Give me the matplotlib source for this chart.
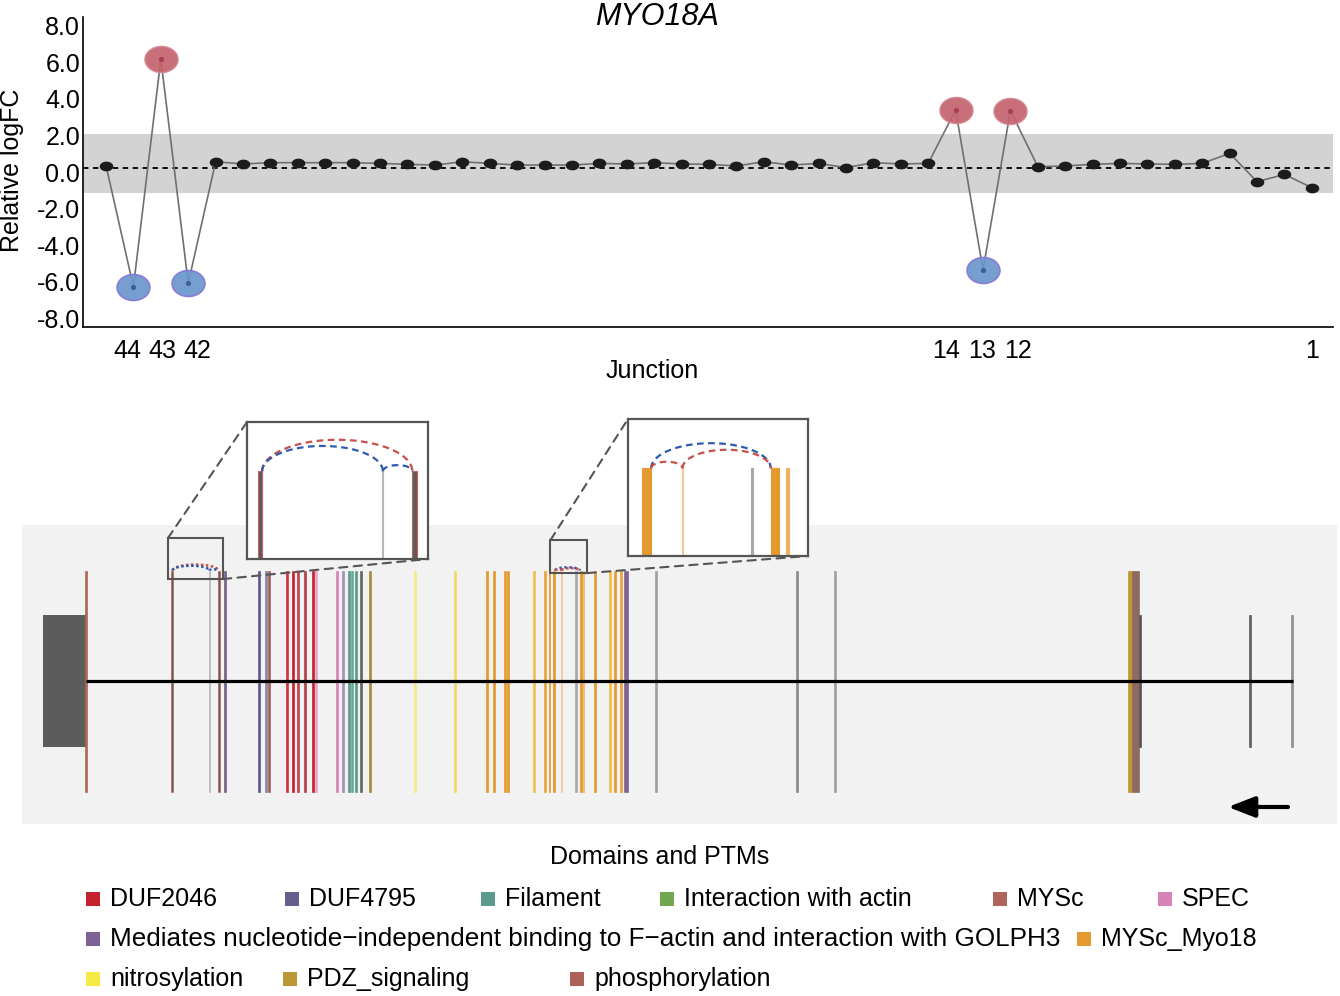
import numpy as np
import matplotlib

matplotlib.use("Agg")
import matplotlib.pyplot as plt
from matplotlib.path import Path
from matplotlib.patches import Rectangle, ConnectionPatch
from matplotlib.transforms import offset_copy, blended_transform_factory, ScaledTranslation

plt.rcParams["font.family"] = ["Liberation Sans", "DejaVu Sans"]
plt.rcParams["axes.unicode_minus"] = False

# junction-level relative logFC, junction 45 (left) -> junction 1 (right)
junctions = list(range(45, 0, -1))
logfc = [0.13, -6.50, 5.94, -6.30,
         0.34, 0.22, 0.29, 0.29, 0.29, 0.29, 0.25, 0.20, 0.16, 0.34,
         0.25, 0.16, 0.16, 0.16, 0.25, 0.22, 0.29, 0.22, 0.20, 0.11,
         0.34, 0.16, 0.25, 0.02, 0.29, 0.22, 0.25,
         3.17, -5.57, 3.13,
         0.07, 0.11, 0.20, 0.25, 0.22, 0.20, 0.25, 0.80, -0.75, -0.35, -1.08]
band = (-1.37, 1.86)
shown_junctions = [44, 43, 42, 14, 13, 12, 1]

# domains / PTMs legend
domain_names = ["DUF2046", "DUF4795", "Filament", "Interaction with actin", "MYSc", "SPEC",
                "Mediates nucleotide\u2212independent binding to F\u2212actin and interaction with GOLPH3",
                "MYSc_Myo18", "nitrosylation", "PDZ_signaling", "phosphorylation"]
domain_colors = ["#C4232E", "#655F8E", "#5B9A8E", "#73A74F", "#B0655A", "#D783B9",
                 "#7D6295", "#E49A2E", "#F6EB45", "#BC9735", "#AD6158"]

# gene model in track units (minus strand)
utr_block = (43, 86)
intron_span = (86, 1293)
exon_pos = [86, 172, 209.3, 219, 225, 259, 266, 269, 287, 293, 298, 305, 313, 316,
            337, 343, 349, 352, 356, 361, 370, 415, 455, 487, 494, 505, 508, 534,
            545, 549.5, 554.3, 561.7, 576, 580.7, 583.3, 595, 610, 615, 621, 626,
            656, 797, 835, 1130, 1135.5, 1140, 1250, 1292]
exon_width = [1.2, 1.2, 0.3, 1.5, 1.2, 1.2, 1.2, 1.2, 1.2, 1.2, 1.2, 1.2, 1.2, 1.2,
              1.2, 1.2, 1.2, 1.2, 1.2, 1.2, 1.2, 1.2, 1.2, 1.2, 1.2, 1.2, 1.2, 1.2,
              1.2, 1.2, 1.9, 0.25, 0.25, 1.7, 0.6, 1.2, 1.2, 1.2, 1.2, 4.5,
              1.2, 1.2, 1.2, 4.0, 7.0, 2.0, 1.2, 1.2]
exon_face = ["#B0655A", "#5C5C5C", "#B8B8B8", "#5C5C5C", "#76608F", "#5E5A8C", "#8A84A8",
             "#A65F5C", "#D0343E", "#C4232E", "#C9404A", "#B0424A", "#C4232E", "#E8A6CC",
             "#D882B8", "#A890B0", "#5B9B8E", "#6BA898", "#5B9B8E", "#666666", "#A88A40",
             "#F5EB80", "#F2D860", "#E49A2E", "#E49A2E", "#E49A2E", "#E49A2E", "#F0C050",
             "#E8A53A", "#E49A2E", "#E49A2E", "#F2C898", "#A8A8A8", "#E49A2E", "#F0B060",
             "#E49A2E", "#F0C040", "#E49A2E", "#E8A53A", "#7E6396",
             "#A0A0A0", "#8C8C8C", "#A0A0A0", "#BC9735", "#8F6A60", "#555555", "#606060", "#909090"]
exon_edge = list(exon_face)
exon_edge[1] = "#C8605C"
exon_edge[3] = "#C8605C"
exon_tall = [True] * 45 + [False, False, False]

# zoomed regions and the junctions drawn in them (start, end, direction)
zoom_ranges = [(168, 223), (550.5, 587.5)]
zoom_junctions = [
    [(172.6, 218.25, "up"), (172.6, 209.3, "down"), (209.3, 218.25, "down")],
    [(555.25, 579.85, "down"), (555.25, 561.7, "up"), (561.7, 579.85, "up")],
]

# ---- layout ----
W, H = 1340, 996
fig = plt.figure(figsize=(W / 100, H / 100), dpi=100)


def px_axes(x0, y0, x1, y1):
    return fig.add_axes([x0 / W, 1 - y1 / H, (x1 - x0) / W, (y1 - y0) / H])


def half_ellipse(a, b, base, rise, n=60):
    t = np.linspace(np.pi, 0, n)
    return (a + b) / 2 + (b - a) / 2 * np.cos(t), base + rise * np.sin(t)


FS = 18
junc_col = {"up": "#C8504A", "down": "#2E5BAF"}

# ---- top: junction logFC ----
ax = px_axes(83, 17, 1333, 327)
x = np.array(junctions, dtype=float)
y = np.array(logfc)
ax.axhspan(*band, color="#D3D3D3", lw=0, zorder=0)
ax.axhline(0, color="black", lw=1.3, ls=(0, (3, 2.5)), zorder=1)
ax.plot(x, y, color="#707070", lw=1.2, zorder=2)

t = np.linspace(0, 2 * np.pi, 60)


def ellipse_marker(r):
    return Path(np.column_stack([np.cos(t), r * np.sin(t)]), closed=True)


up = y > band[1]
down = y < band[0]
mid = ~(up | down)
ax.scatter(x[mid], y[mid], marker=ellipse_marker(0.72), s=95, color="#1C1C1C", lw=0, zorder=3)
ax.scatter(x[up], y[up], marker=ellipse_marker(0.79), s=570, facecolor="#C5636F",
           edgecolor="#D58A94", lw=1, alpha=0.92, zorder=4)
ax.scatter(x[down], y[down], marker=ellipse_marker(0.79), s=560, facecolor="#6A97CB",
           edgecolor="#8577D6", lw=1.2, alpha=0.92, zorder=4)
ax.scatter(x[up], y[up], s=14, color="#A8404F", lw=0, zorder=5)
ax.scatter(x[down], y[down], s=14, color="#3F5F92", lw=0, zorder=5)

ax.set_xlim(45.84, 0.23)
ax.set_ylim(-8.69, 8.25)
yt = np.arange(-8, 9, 2)
ax.set_yticks(yt, labels=[f"{v:.1f}" for v in yt])
ax.set_xticks([])
ax.tick_params(axis="y", length=0, pad=2, labelsize=FS)
shift_down = ScaledTranslation(0, -3 / 72, fig.dpi_scale_trans)
for lab in ax.get_yticklabels():
    lab.set_transform(lab.get_transform() + shift_down)
for s in ("top", "right"):
    ax.spines[s].set_visible(False)
for s in ("left", "bottom"):
    ax.spines[s].set_linewidth(1.2)

tick_shift = [-6, 2, 9, -10, -1, 8, 0]
base_tr = blended_transform_factory(ax.transData, ax.transAxes)
for j, dx in zip(shown_junctions, tick_shift):
    ax.text(j, 0, str(j), fontsize=FS, ha="center", va="center",
            transform=offset_copy(base_tr, fig=fig, x=dx, y=-24, units="dots"))

fig.text(657 / W, 1 - 17 / H, "MYO18A", fontsize=22, style="italic", ha="center", va="center")
fig.text(12 / W, 1 - 170 / H, "Relative logFC", fontsize=FS, rotation=90, ha="center", va="center")
fig.text(652 / W, 1 - 371 / H, "Junction", fontsize=FS, ha="center", va="center")

# ---- bottom: gene track ----
axg = px_axes(22, 525, 1337, 824)
axg.set_facecolor("#F2F2F2")
axg.set_xlim(22, 1337)
axg.set_ylim(-1.294, 1.412)
axg.set_xticks([])
axg.set_yticks([])
for s in axg.spines.values():
    s.set_visible(False)

pos = np.array(exon_pos)
wid = np.array(exon_width)
face = np.array(exon_face)
edge = np.array(exon_edge)
hgt = np.where(exon_tall, 2.0, 1.2)

axg.plot(intron_span, [0, 0], color="black", lw=2.3, zorder=3, solid_capstyle="butt")
axg.bar(utr_block[0], 1.2, width=utr_block[1] - utr_block[0], bottom=-0.6, align="edge",
        color="#5C5C5C", lw=0, zorder=2)
axg.bar(pos, hgt, bottom=-hgt / 2, width=np.maximum(wid, 1.3), color=face,
        edgecolor=edge, linewidth=0.5, zorder=2)

axg.annotate("", xy=(1228, -1.14), xytext=(1288, -1.14),
             arrowprops=dict(arrowstyle="-|>,head_length=0.9,head_width=0.35", lw=3,
                             color="black", mutation_scale=18, shrinkA=0, shrinkB=0))

zoom_box_y = [(0.923, 1.294), (0.977, 1.276)]
inset_px = [(247, 422, 428, 559), (628, 419, 808, 556)]
bar_top = 0.64
for (lo, hi), juncs, (yb, yt_), ipx in zip(zoom_ranges, zoom_junctions, zoom_box_y, inset_px):
    axg.add_patch(Rectangle((lo, yb), hi - lo, yt_ - yb, fill=False, ec="#555555",
                            lw=1.5, zorder=5, clip_on=False))
    for a, b, d in juncs:
        xs, ys = half_ellipse(a, b, 1.0, 0.13 * (b - a) / 110.5)
        axg.plot(xs, ys, color=junc_col[d], lw=1.8, ls=(0, (1, 1)), zorder=4)

    ins = px_axes(*ipx)
    ins.set_xlim(lo, hi)
    ins.set_ylim(0, 1)
    ins.set_xticks([])
    ins.set_yticks([])
    for s in ins.spines.values():
        s.set_color("#555555")
        s.set_linewidth(1.6)
    sel = (pos >= lo) & (pos <= hi)
    ins.bar(pos[sel], bar_top, width=wid[sel], color=face[sel], edgecolor=edge[sel], lw=0.8)
    aspect = (ipx[2] - ipx[0]) / (ipx[3] - ipx[1])
    for a, b, d in juncs:
        xs, ys = half_ellipse(a, b, bar_top, 0.21 * (b - a) / (hi - lo) * aspect)
        ins.plot(xs, ys, color=junc_col[d], lw=1.6, ls=(0, (3, 2)))

    for xyA, xyB in (((lo, yt_), (0, 1)), ((hi, yb), (1, 0))):
        con = ConnectionPatch(xyA=xyA, coordsA=axg.transData, xyB=xyB, coordsB=ins.transAxes,
                              color="#555555", lw=1.5, ls=(0, (4, 3)), zorder=6)
        fig.add_artist(con)

# ---- legend ----
fig.text(660 / W, 1 - 857 / H, "Domains and PTMs", fontsize=FS, ha="center", va="center")
legend_xy = [(86, 899), (285, 899), (481, 899), (660, 899), (993, 899), (1158, 899),
             (86, 939), (1077, 939), (86, 979), (283, 979), (570, 979)]
for name, col, (lx, ly) in zip(domain_names, domain_colors, legend_xy):
    fig.add_artist(Rectangle((lx / W, 1 - (ly + 7) / H), 14 / W, 14 / H,
                             transform=fig.transFigure, color=col, lw=0))
    fs = 18.85 if len(name) > 40 else FS
    fig.text((lx + 24) / W, 1 - ly / H, name, fontsize=fs, ha="left", va="center")

fig.savefig("out.png", dpi=100)
